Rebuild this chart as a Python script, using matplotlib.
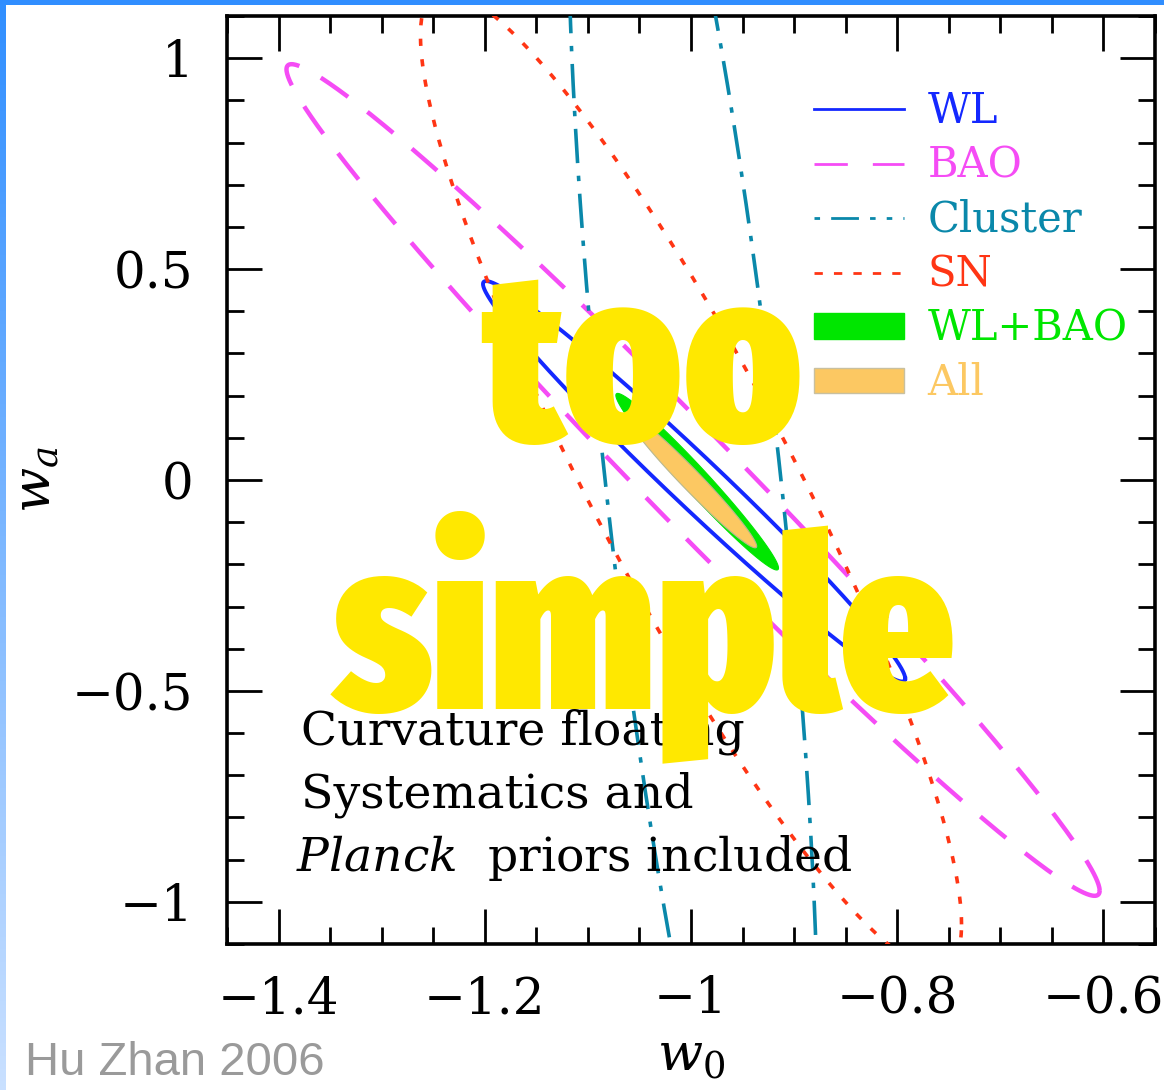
import numpy as np
import matplotlib
matplotlib.use("Agg")
import matplotlib.pyplot as plt
from matplotlib import font_manager as fm
from matplotlib.lines import Line2D
from matplotlib.patches import Patch
from matplotlib.ticker import MultipleLocator

plt.rcParams['font.family'] = ['DejaVu Serif']
plt.rcParams['mathtext.fontset'] = 'dejavuserif'

# 68% joint contours in (w0, wa): centre, 1-sigma errors and correlation
probes = ["WL", "BAO", "Cluster", "SN", "WL+BAO", "All"]
w0_center = [-0.997, -0.998, -0.998, -1.000, -0.994, -1.000]
wa_center = [-0.003, 0.000, 0.000, 0.000, -0.004, 0.000]
sigma_w0 = [0.135, 0.260, 0.080, 0.173, 0.052, 0.042]
sigma_wa = [0.313, 0.650, 1.286, 0.765, 0.138, 0.106]
corr = [-0.985, -0.9875, -0.711, -0.908, -0.978, -0.977]

colors = ["#1428ff", "#f54cf5", "#0a88aa", "#ff3514", "#00e600", "#fcc862"]
styles = ["-", (0, (7.5, 5.5)), (0, (9.5, 3.5, 1.5, 3.5)), (0, (2, 3.7)), None, None]
widths = [2.8, 3.2, 2.6, 2.6, 0, 0]

K = np.sqrt(2.30)  # delta chi^2 for two parameters, 68%


def contour(cx, cy, sx, sy, rho, n=600):
    t = np.linspace(0, 2 * np.pi, n)
    x = cx + K * sx * np.cos(t)
    y = cy + K * sy * (rho * np.cos(t) + np.sqrt(1 - rho ** 2) * np.sin(t))
    return x, y


def heavy_condensed_font():
    # heaviest narrow face that is installed, else plain bold sans
    best, best_score = None, -1
    for f in fm.fontManager.ttflist:
        key = (f.fname + " " + f.name + " " + str(f.stretch)).lower().replace("-", "").replace(" ", "")
        if "italic" in key or "oblique" in key or f.style != "normal":
            continue
        if "extracondensed" in key or "ultracondensed" in key:
            cond = 2
        elif "condensed" in key or "narrow" in key:
            cond = 1
        else:
            continue
        w = f.weight if isinstance(f.weight, int) else fm.weight_dict.get(f.weight, 400)
        score = w + 150 * cond
        if score > best_score:
            best, best_score = f, score
    if best is None:
        return fm.FontProperties(family="DejaVu Sans", weight="bold")
    return fm.FontProperties(fname=best.fname)


fig = plt.figure(figsize=(11.64, 10.9), dpi=100)
ax = fig.add_axes([227 / 1164, 1 - 944 / 1090, 928 / 1164, 928 / 1090])

for i, name in enumerate(probes):
    x, y = contour(w0_center[i], wa_center[i], sigma_w0[i], sigma_wa[i], corr[i])
    if styles[i] is None:
        ax.fill(x, y, color=colors[i], lw=0.8,
                ec="#b8b890" if name == "All" else colors[i], zorder=1 + i)
    else:
        ax.plot(x, y, color=colors[i], lw=widths[i], ls=styles[i], zorder=3)

ax.set_xlim(-1.45, -0.55)
ax.set_ylim(-1.1, 1.1)
ax.xaxis.set_major_locator(MultipleLocator(0.2))
ax.xaxis.set_minor_locator(MultipleLocator(0.05))
ax.yaxis.set_major_locator(MultipleLocator(0.5))
ax.yaxis.set_minor_locator(MultipleLocator(0.1))
ax.tick_params(which="both", direction="in", top=True, right=True, width=2, colors="black")
ax.tick_params(which="major", length=25, labelsize=36)
ax.tick_params(which="minor", length=12.5)
ax.tick_params(axis="x", which="major", pad=22)
ax.tick_params(axis="y", which="major", pad=24)
ax.xaxis.set_major_formatter(lambda v, p: ("%g" % round(v, 2)).replace("-", "\u2212"))
ax.yaxis.set_major_formatter(lambda v, p: ("%g" % round(v, 2)).replace("-", "\u2212"))
for s in ax.spines.values():
    s.set_linewidth(2.6)

ax.set_xlabel(r"$w_0$", fontsize=38)
ax.set_ylabel(r"$w_a$", fontsize=38)
ax.xaxis.set_label_coords(0.5, -0.093)
ax.yaxis.set_label_coords(-0.178, 0.5)

# legend: thinner lines than the contours
leg_styles = ["-", (0, (12, 9)), (0, (2, 4, 10, 4, 2, 4)), (0, (3, 4))]
handles = [Line2D([], [], color=colors[i], lw=2, ls=leg_styles[i]) for i in range(4)]
handles += [Patch(facecolor=colors[4], edgecolor=colors[4]),
            Patch(facecolor=colors[5], edgecolor="#c8c0a0")]
leg = ax.legend(handles, probes, loc="upper left", bbox_to_anchor=(0.6325, 0.9205),
                frameon=False, fontsize=30, handlelength=2.15, handleheight=0.55,
                handletextpad=0.58, labelspacing=0.3, borderpad=0, borderaxespad=0)
for txt, c in zip(leg.get_texts(), colors):
    txt.set_color(c)

ax.text(0.08, 0.215, "Curvature floating", transform=ax.transAxes, fontsize=34, zorder=5)
ax.text(0.08, 0.147, "Systematics and", transform=ax.transAxes, fontsize=34, zorder=5)
ax.text(0.074, 0.079, r"$\mathit{Planck}$  priors included", transform=ax.transAxes,
        fontsize=34, zorder=5)

# big overlay caption, sized so that "simple" spans about 622 px
big_font = heavy_condensed_font()
big = dict(ha="center", va="baseline", fontsize=170, color="#ffe800",
           fontproperties=big_font, zorder=20)
t_too = fig.text(643 / 1164, 1 - 440 / 1090, "too", **big)
t_simple = fig.text(644 / 1164, 1 - 708 / 1090, "simple", **big)
fig.canvas.draw()
w = t_simple.get_window_extent().width
for t in (t_too, t_simple):
    t.set_fontsize(170 * 622 / w)

fig.text(25 / 1164, 1 - 1075 / 1090, "Hu Zhan 2006", fontsize=34, color="#9a9a9a",
         family=["Liberation Sans", "DejaVu Sans"], va="baseline")

# slide frame: blue bar on top, fading bar on the left
top = fig.add_axes([0, 1 - 5 / 1090, 1, 5 / 1090])
top.set_axis_off()
top.imshow(np.array([[[0.19, 0.56, 1.0]]]), aspect="auto", extent=(0, 1, 0, 1))
side = fig.add_axes([0, 0, 6 / 1164, 1])
side.set_axis_off()
g = np.linspace(0, 1, 256)[:, None]
grad = np.dstack([0.19 + 0.6 * g, 0.56 + 0.32 * g, np.ones_like(g)])
side.imshow(grad, aspect="auto", extent=(0, 1, 0, 1), origin="upper")

fig.savefig("out.png", dpi=100)
